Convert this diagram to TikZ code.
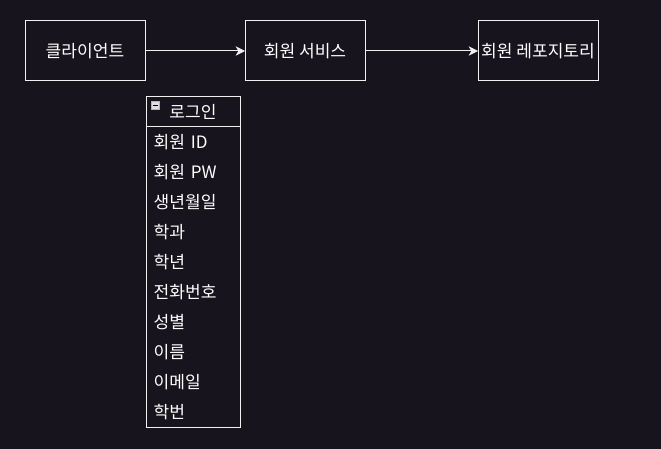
\documentclass[tikz,border=0pt]{standalone}
\usepackage{fontspec}
\newfontfamily\krfont{Noto Sans CJK KR}
\usepackage{xcolor}
\usetikzlibrary{arrows.meta, positioning}

\definecolor{bgdark}{RGB}{24,20,29}
\definecolor{lineclr}{RGB}{240,240,240}

\begin{document}
\begin{tikzpicture}[
    x=0.75pt, y=0.75pt,
    node distance=75pt,
    every node/.style={font=\krfont\fontsize{12.8}{14}\selectfont, text=white, outer sep=0pt},
    block/.style={rectangle, draw=lineclr, line width=0.75pt, minimum width=90pt, minimum height=45pt, inner sep=0pt, align=center},
    listhead/.style={rectangle, minimum width=70.5pt, minimum height=22.5pt, inner sep=0pt},
    listrow/.style={rectangle, minimum width=70.5pt, minimum height=22.5pt, inner sep=0pt, text width=59pt, align=left},
    arrow/.style={-{Stealth[length=7pt, width=7pt, inset=2pt]}, draw=lineclr, line width=0.75pt}
]

% background
\fill[bgdark] (0,0) rectangle (661,-449);
\useasboundingbox (0,0) rectangle (661,-449);

\node[block] (client) at (85,-51) {클라이언트};
\node[block, right=75pt of client] (service) {회원 서비스};
\node[block, right=84.75pt of service] (repo) {회원 레포지토리};

\draw[arrow] (client) -- (service);
\draw[arrow] (service) -- (repo);

% login entity
\node[listhead] (login) at (193,-112) {로그인};
\coordinate (row0) at (login.south);
\foreach \item [count=\i] in {회원 ID, 회원 PW, 생년월일, 학과, 학년, 전화번호, 성별, 이름, 이메일, 학번} {
    \pgfmathtruncatemacro{\prev}{\i-1}
    \node[listrow, below=0pt of row\prev, anchor=north] (row\i) {\item};
}
\draw[lineclr, line width=0.75pt] (login.north west) rectangle (row10.south east);
\draw[lineclr, line width=0.75pt] (login.south west) -- (login.south east);

% collapse icon
\draw[gray!60, fill=gray!25, line width=0.5pt] (151,-101.5) rectangle (159,-109.5);
\draw[black, line width=1pt] (152.5,-105.5) -- (157.5,-105.5);

\end{tikzpicture}
\end{document}
